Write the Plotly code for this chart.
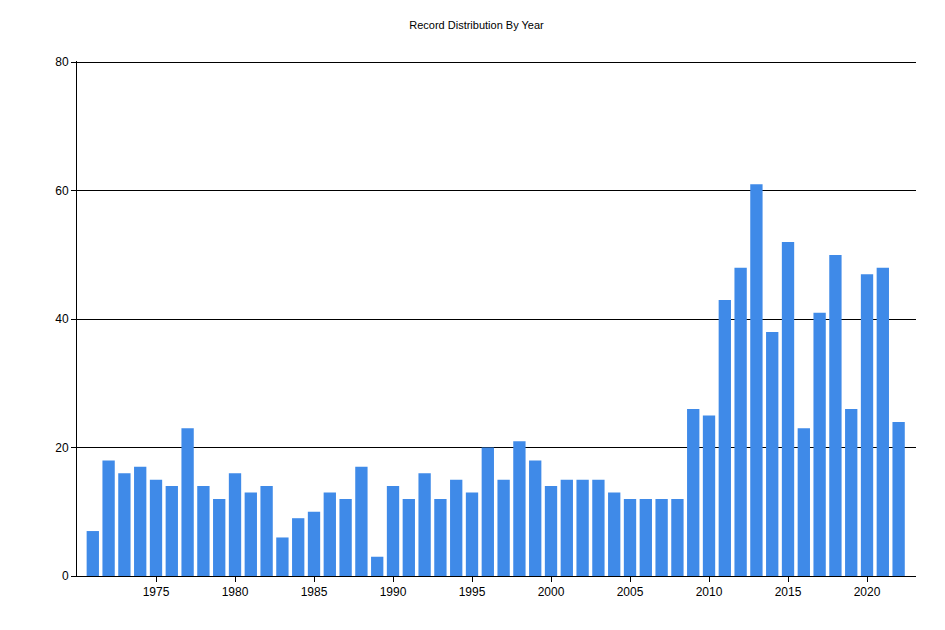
import plotly.graph_objects as go

years = list(range(1971, 2023))
counts = [7, 18, 16, 17, 15, 14, 23, 14, 12, 16, 13, 14, 6, 9, 10, 13, 12, 17, 3, 14,
          12, 16, 12, 15, 13, 20, 15, 21, 18, 14, 15, 15, 15, 13, 12, 12, 12, 12, 26, 25,
          43, 48, 61, 38, 52, 23, 41, 50, 26, 47, 48, 24]

fig = go.Figure(go.Bar(x=years, y=counts, marker_color='#3f8ae8', marker_line_width=0))

fig.update_layout(
    width=937, height=622,
    title=dict(text='Record Distribution By Year', x=0.5, xanchor='center',
               y=1 - 17 / 622, yanchor='middle',
               font=dict(size=11, color='black')),
    font=dict(family='Liberation Sans, DejaVu Sans', size=12, color='black'),
    plot_bgcolor='white', paper_bgcolor='white',
    margin=dict(l=69, r=29, t=53, b=54),
    bargap=0.22, showlegend=False,
)
fig.update_xaxes(range=[1970, 2023.1], tickvals=[1975, 1980, 1985, 1990, 1995, 2000, 2005, 2010, 2015, 2020],
                 showgrid=False, showline=True, linecolor='black', ticks='outside',
                 ticklen=5, tickcolor='black', zeroline=False)
fig.update_yaxes(range=[0, 80.2], tickvals=[0, 20, 40, 60, 80], showgrid=True, gridcolor='black', gridwidth=1,
                 showline=True, linecolor='black', ticks='outside', ticklen=5,
                 tickcolor='black', zeroline=False)

fig.write_html("out.html")
